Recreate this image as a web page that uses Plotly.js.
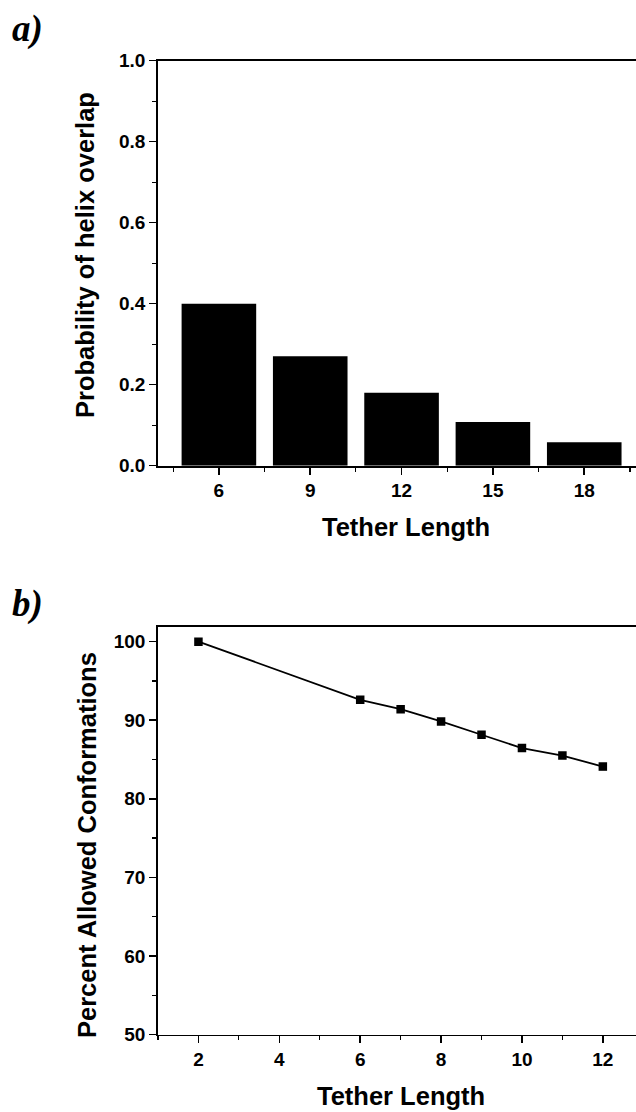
<!DOCTYPE html>
<html>
<head>
<meta charset="utf-8">
<script src="https://cdn.plot.ly/plotly-3.0.1.min.js"></script>
<style>html,body{margin:0;padding:0;background:#fff;overflow:hidden;}#chart{width:636px;height:1112px;}</style>
</head>
<body>
<div id="chart"></div>
<script>
// Panel a data
const tetherA = [6, 9, 12, 15, 18];
const probOverlap = [0.40, 0.27, 0.18, 0.108, 0.058];
const tickA = [6, 9, 12, 15, 18];

// Panel b data
const tetherB = [2, 6, 7, 8, 9, 10, 11, 12];
const allowedPct = [100, 92.6, 91.4, 89.85, 88.15, 86.45, 85.5, 84.1];

const W = 636, H = 1112;
const px = v => v / W;
const py = v => 1 - v / H;

const tickFont = {family: 'Liberation Sans, Arial, sans-serif', size: 19, color: '#000', weight: 'bold'};
const titleFont = {family: 'Liberation Sans, Arial, sans-serif', size: 25.5, color: '#000', weight: 'bold'};
const panelFont = {family: 'Liberation Serif, Times New Roman, serif', size: 37, color: '#000', weight: 'bold', style: 'italic'};

const axisCommon = {
  showline: true, linecolor: '#000', linewidth: 1.8,
  ticks: 'outside', ticklen: 7, tickwidth: 1.5, tickcolor: '#000',
  showgrid: false, zeroline: false, tickfont: tickFont, automargin: false, fixedrange: true
};

const traces = [
  {
    type: 'bar', x: tetherA, y: probOverlap, width: 2.45,
    marker: {color: '#000', line: {width: 0}},
    xaxis: 'x', yaxis: 'y', hoverinfo: 'skip'
  },
  {
    type: 'scatter', mode: 'lines+markers', x: tetherB, y: allowedPct,
    line: {color: '#000', width: 1.8},
    marker: {symbol: 'square', size: 8.5, color: '#000'},
    xaxis: 'x2', yaxis: 'y2', hoverinfo: 'skip'
  }
];

const layout = {
  width: W, height: H,
  margin: {l: 0, r: 0, t: 0, b: 0},
  paper_bgcolor: '#fff', plot_bgcolor: '#fff',
  showlegend: false,
  xaxis: Object.assign({}, axisCommon, {
    domain: [px(158), 1], anchor: 'y', range: [4, 19.7],
    tickmode: 'array', tickvals: tickA, ticktext: tickA.map(String),
    mirror: true,
    minor: {ticks: 'outside', ticklen: 4, tickwidth: 1.2, tickcolor: '#000', tick0: 0, dtick: 1.5, showgrid: false}
  }),
  yaxis: Object.assign({}, axisCommon, {
    domain: [py(465.7), py(60.7)], anchor: 'x', range: [0, 1],
    tick0: 0, dtick: 0.2, tickformat: '.1f',
    minor: {ticks: 'outside', ticklen: 4, tickwidth: 1.2, tickcolor: '#000', tick0: 0, dtick: 0.1, showgrid: false}
  }),
  xaxis2: Object.assign({}, axisCommon, {
    domain: [px(158), 1], anchor: 'y2', range: [1, 12.82],
    tick0: 0, dtick: 2,
    mirror: true,
    minor: {ticks: 'outside', ticklen: 4, tickwidth: 1.2, tickcolor: '#000', tick0: 0, dtick: 1, showgrid: false}
  }),
  yaxis2: Object.assign({}, axisCommon, {
    domain: [py(1034.5), py(626.7)], anchor: 'x2', range: [50, 101.9],
    tick0: 0, dtick: 10,
    minor: {ticks: 'outside', ticklen: 4, tickwidth: 1.2, tickcolor: '#000', tick0: 0, dtick: 5, showgrid: false}
  }),
  annotations: [
    {text: 'a)', xref: 'paper', yref: 'paper', x: px(27), y: py(29), showarrow: false, font: panelFont, xanchor: 'center', yanchor: 'middle'},
    {text: 'b)', xref: 'paper', yref: 'paper', x: px(28), y: py(604), showarrow: false, font: panelFont, xanchor: 'center', yanchor: 'middle'},
    {text: 'Probability of helix overlap', xref: 'paper', yref: 'paper', x: px(85), y: py(255), textangle: -90, showarrow: false, font: titleFont, xanchor: 'center', yanchor: 'middle'},
    {text: 'Tether Length', xref: 'paper', yref: 'paper', x: px(406), y: py(527), showarrow: false, font: titleFont, xanchor: 'center', yanchor: 'middle'},
    {text: 'Percent Allowed Conformations', xref: 'paper', yref: 'paper', x: px(87), y: py(845), textangle: -90, showarrow: false, font: titleFont, xanchor: 'center', yanchor: 'middle'},
    {text: 'Tether Length', xref: 'paper', yref: 'paper', x: px(401), y: py(1096), showarrow: false, font: titleFont, xanchor: 'center', yanchor: 'middle'}
  ]
};

Plotly.newPlot('chart', traces, layout, {staticPlot: true, displayModeBar: false});
</script>
</body>
</html>
